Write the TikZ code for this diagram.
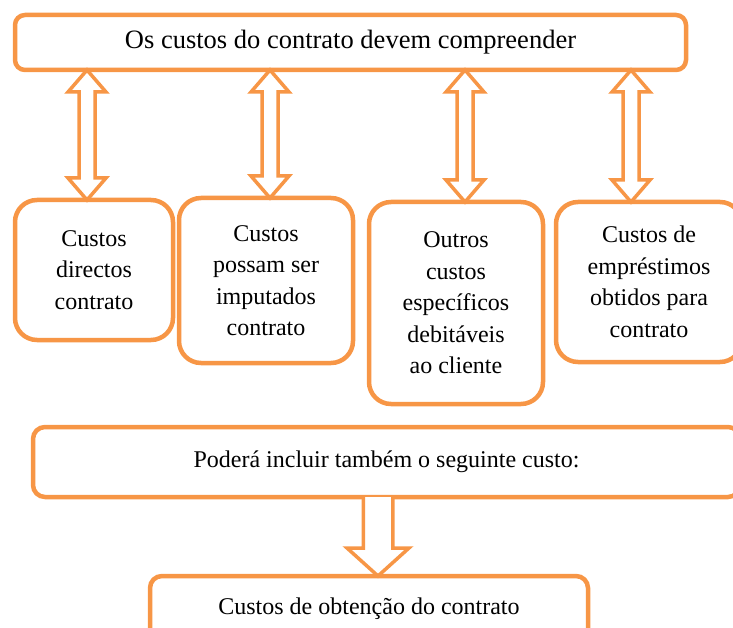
\documentclass[tikz,border=0pt]{standalone}
\usepackage{fontspec}
\setmainfont{Liberation Serif}
\usepackage{tikz}
\usetikzlibrary{calc}

\definecolor{boxorange}{HTML}{F79646}

\tikzset{
	costbox/.style={draw=boxorange, line width=4.5pt, fill=white, rounded corners=#1, inner sep=0pt, outer sep=0pt, align=center, font=\fontsize{24}{31.5}\selectfont},
	costbox/.default=22pt,
	blockarrow/.style={draw=boxorange, line width=3.5pt, fill=white, line join=miter}
}

\begin{document}
\begin{tikzpicture}[x=1pt, y=-1pt]
		\useasboundingbox (0, 0) rectangle (733, 628);
		\clip (0, 0) rectangle (733, 628);
		\node[costbox=10pt, minimum width=671pt, minimum height=55pt, font=\fontsize{26.5}{30}\selectfont] (top) at (350.5, 42.5) {Os custos do contrato devem compreender};
		\node[costbox, minimum width=158pt, minimum height=140pt] (box1) at (94, 270) {Custos\\directos\\contrato};
		\node[costbox, minimum width=174pt, minimum height=165pt] (box2) at (266, 280.5) {Custos\\possam ser\\imputados\\contrato};
		\node[costbox, minimum width=174pt, minimum height=202pt] (box3) at (456, 303) {Outros\\custos\\específicos\\debitáveis\\ao cliente};
		\node[costbox, minimum width=186pt, minimum height=160pt] (box4) at (649, 282) {Custos de\\empréstimos\\obtidos para\\contrato};
		\node[costbox=12pt, minimum width=707pt, minimum height=70pt] (extra) at (386.5, 462) {Poderá incluir também o seguinte custo:};
		\node[costbox=12pt, minimum width=438pt, minimum height=66pt] (obtain) at (369, 609) {Custos de obtenção do contrato};
		\foreach \k/\ax in {1/87, 2/270, 3/465, 4/631} {
			\draw[blockarrow] let \p1 = (top.south), \p2 = (box\k.north) in
				(\ax pt, \y1) -- (\ax pt + 19pt, \y1 - 22pt) -- (\ax pt + 8pt, \y1 - 22pt) -- (\ax pt + 8pt, \y2 + 22pt)
				-- (\ax pt + 19pt, \y2 + 22pt) -- (\ax pt, \y2) -- (\ax pt - 19pt, \y2 + 22pt) -- (\ax pt - 8pt, \y2 + 22pt)
				-- (\ax pt - 8pt, \y1 - 22pt) -- (\ax pt - 19pt, \y1 - 22pt) -- cycle;
		}
		\draw[blockarrow] let \p1 = (extra.south), \p2 = (obtain.north) in
			(378pt - 14.75pt, \y1) -- (378pt - 14.75pt, \y2 + 28pt) -- (378pt - 31pt, \y2 + 28pt) -- (378pt, \y2)
			-- (378pt + 31pt, \y2 + 28pt) -- (378pt + 14.75pt, \y2 + 28pt) -- (378pt + 14.75pt, \y1);
	\end{tikzpicture}
\end{document}
